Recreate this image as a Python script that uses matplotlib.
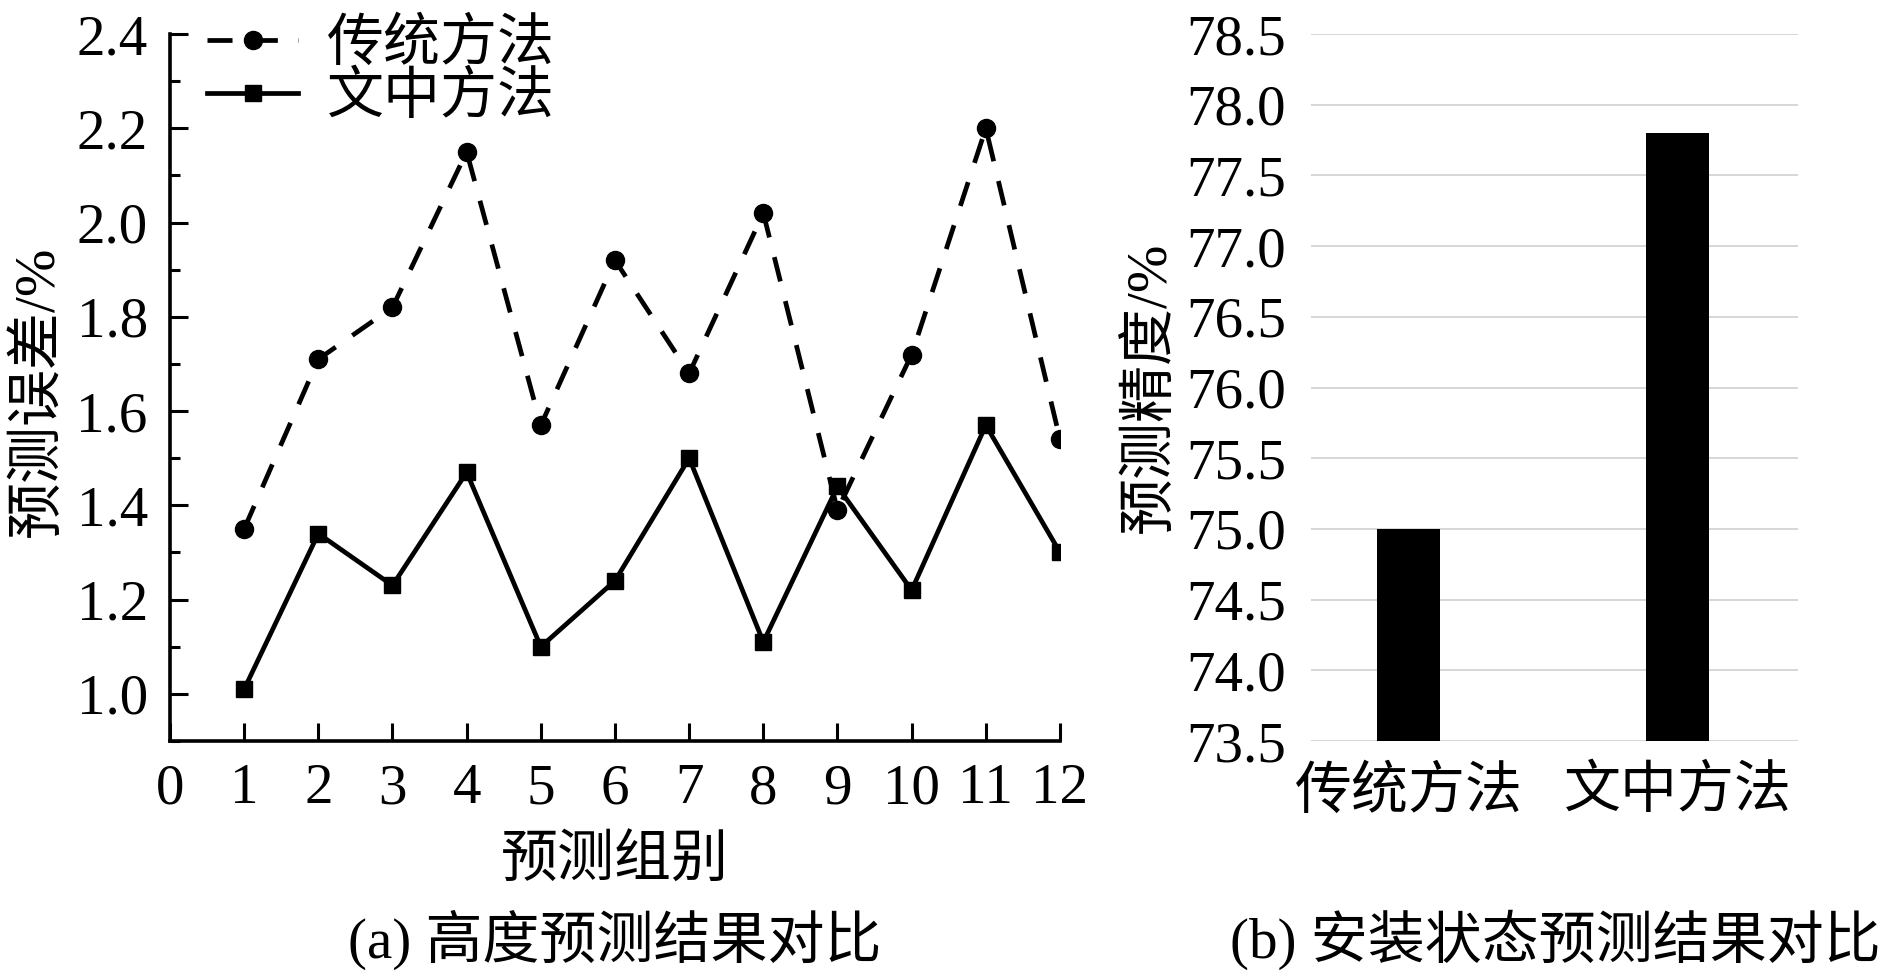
import numpy as np
import matplotlib
matplotlib.use('Agg')
import matplotlib.pyplot as plt
from matplotlib.ticker import MultipleLocator, FormatStrFormatter

plt.rcParams['font.family'] = ['Liberation Serif', 'Noto Sans CJK SC']
plt.rcParams['axes.unicode_minus'] = False

# (a) 高度预测误差
groups = list(range(1, 13))
err_traditional = [1.35, 1.71, 1.82, 2.15, 1.57, 1.92, 1.68, 2.02, 1.39, 1.72, 2.20, 1.54]
err_proposed = [1.01, 1.34, 1.23, 1.47, 1.10, 1.24, 1.50, 1.11, 1.44, 1.22, 1.57, 1.30]

# (b) 安装状态预测精度
methods = ['传统方法', '文中方法']
accuracy = [75.0, 77.8]

FS = 41
W, H = 1890, 980

fig = plt.figure(figsize=(W / 100, H / 100), dpi=100)

# ---------- 左图 ----------
ax1 = fig.add_axes([170 / W, 1 - 741 / H, (1060 - 170) / W, (741 - 34) / H])
ax1.plot(groups, err_traditional, color='black', linestyle=(0, (5.3, 4.3)), linewidth=3.4,
         marker='o', markersize=13, label='传统方法')
ax1.plot(groups, err_proposed, color='black', linestyle='-', linewidth=3.4,
         marker='s', markersize=11.5, label='文中方法')

ax1.set_xlim(0, 12)
ax1.set_ylim(0.9, 2.4)
ax1.set_xticks(range(0, 13))
ax1.yaxis.set_minor_locator(MultipleLocator(0.1))
ax1.set_yticks([1.0, 1.2, 1.4, 1.6, 1.8, 2.0, 2.2, 2.4])
ax1.yaxis.set_major_formatter(FormatStrFormatter('%.1f'))
ax1.tick_params(axis='both', which='major', direction='in', length=13, width=2.2, labelsize=FS)
ax1.tick_params(axis='y', which='minor', direction='in', length=7, width=2.2)
ax1.tick_params(axis='y', which='major', pad=16)
ax1.tick_params(axis='x', which='major', pad=16)
for side in ['top', 'right']:
    ax1.spines[side].set_visible(False)
for side in ['left', 'bottom']:
    ax1.spines[side].set_linewidth(2.6)

fig.text(38 / W, 1 - 391 / H, '预测误差/%', fontsize=FS, rotation=90, ha='center', va='center')
fig.text(615 / W, 1 - 862 / H, '预测组别', fontsize=FS, ha='center', va='center')

leg = ax1.legend(loc='upper left', bbox_to_anchor=(207 / W, 1 - 18 / H),
                 bbox_transform=fig.transFigure, frameon=False, fontsize=FS,
                 handlelength=1.6, handletextpad=0.5, labelspacing=0.0,
                 borderpad=0, borderaxespad=0)

fig.text(615 / W, 1 - 940 / H, '(a) 高度预测结果对比', fontsize=FS, ha='center', va='center')

# ---------- 右图 ----------
ax2 = fig.add_axes([1311 / W, 1 - 741 / H, (1798 - 1311) / W, (741 - 34) / H])
x = np.arange(len(methods))
ax2.bar(x, accuracy, width=0.233, color='black', zorder=3)
ax2.set_xlim(-0.363, 1.448)
ax2.set_ylim(73.5, 78.5)
ax2.set_yticks(np.arange(73.5, 78.51, 0.5))
ax2.yaxis.set_major_formatter(FormatStrFormatter('%.1f'))
ax2.set_xticks(x)
ax2.set_xticklabels(methods)
ax2.grid(axis='y', color='#d0d0d0', linewidth=1.2, zorder=0)
for side in ax2.spines:
    ax2.spines[side].set_visible(False)
ax2.tick_params(axis='both', length=0, labelsize=FS)
ax2.tick_params(axis='y', pad=18)
ax2.tick_params(axis='x', pad=18)

fig.text(1151 / W, 1 - 387 / H, '预测精度/%', fontsize=FS, rotation=90, ha='center', va='center')
fig.text(1555 / W, 1 - 940 / H, '(b) 安装状态预测结果对比', fontsize=FS, ha='center', va='center')

fig.savefig('out.png', dpi=100)
